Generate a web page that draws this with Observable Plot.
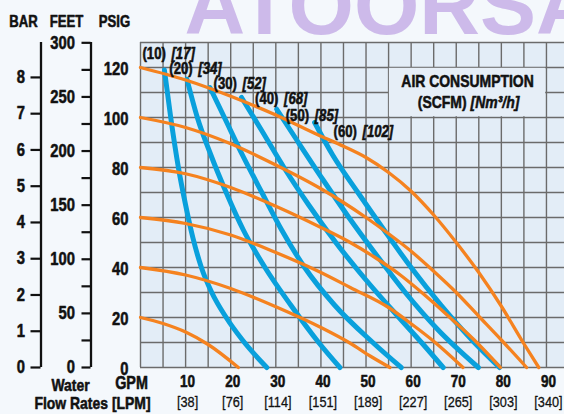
<!DOCTYPE html>
<html><head><meta charset="utf-8">
<script src="https://cdn.jsdelivr.net/npm/d3@7"></script>
<script src="https://cdn.jsdelivr.net/npm/@observablehq/plot@0.6"></script>
<style>
html,body{margin:0;padding:0;background:#f4f8fc;}
#chart svg{display:block;}
</style></head><body><div id="chart"></div>
<script>
// ---- tick values ----
const barTicks = [0, 1, 2, 3, 4, 5, 6, 7, 8];
const feetMajor = [0, 50, 100, 150, 200, 250, 300];
const feetMinor = [25, 75, 125, 175, 225, 275];
const psiTicks = [0, 20, 40, 60, 80, 100, 120];
const gpmTicks = [10, 20, 30, 40, 50, 60, 70, 80, 90];
const lpmTicks = [38, 76, 114, 151, 189, 227, 265, 303, 340];

// ---- discharge pressure curves (orange): [GPM, PSIG] ----
const pressure120 = [[0,120],[10,115],[20,108.5],[30,101],[40,92.5],[45,88.5],[50,84],[55,78],[60,70.5],[65,61],[70,50],[75,38],[80,24.5],[85,9.5],[88.3,0]];
const pressure100 = [[0,100],[10,96],[20,89.5],[30,81],[40,71.5],[45,66],[50,60],[55,53.5],[60,46.5],[65,38.5],[70,30],[75,20.5],[80,11],[85.6,0]];
const pressure80  = [[0,80],[10,77.5],[20,72],[30,64.5],[40,56],[46.5,50],[52,44],[57.6,37],[63,29],[68.6,20],[74,11],[79.8,0]];
const pressure60  = [[0,60],[10,57.6],[20,53],[30,46],[40,38],[46.5,32],[55,24],[60,17.5],[65,10.5],[71.5,0]];
const pressure40  = [[0,40],[10,37],[20,31.6],[30,24.3],[40,16],[46.5,9.7],[51,4.5],[55.3,0]];
const pressure20  = [[0,20],[5,17.6],[10,14.2],[15,9.2],[21.7,0]];

// ---- air consumption curves (blue): [GPM, PSIG] ----
const air10 = [[5.3,119],[6.7,100],[8.4,80],[10,65],[11.6,52],[13.5,40],[15.8,30],[19,20],[22.6,11],[28,0]];
const air20 = [[10.3,115.3],[12.6,100],[15.6,85],[19,70],[22.8,55],[27.6,40],[33.3,25],[39.5,10],[44.2,0]];
const air30 = [[15.4,112],[18.6,100],[22.6,85],[26.9,70],[31.3,55],[36.4,40],[43,25],[51.5,10],[57.8,0]];
const air40 = [[22.4,108],[26.8,95],[31.8,80],[37.3,65],[43.3,50],[50,35],[57.3,20],[62.3,10],[67.1,0]];
const air50 = [[30.2,103.3],[35,90],[40.5,75],[46.2,60],[52.3,45],[58.7,30],[66,15],[74.9,0]];
const air60 = [[38.6,98],[42.6,85],[48.2,70],[54,55],[60,40],[66.6,25],[74,10],[79.6,0]];

// ---- curve labels ----
const scfm  = [10, 20, 30, 40, 50, 60];
const nm3h  = [17, 34, 52, 68, 85, 102];
const labelGpm = [0.44, 6.4, 16.2, 25.4, 32.2, 42.8];
const labelPsi = [125.6, 119.6, 113.6, 107.5, 100.8, 94.4];

// legend cell (GPM x PSIG range it occupies)
const legendGpm = [55, 90];
const legendPsi = [100, 120];

const PSI_PER_BAR = 14.5038;
const FT_PER_PSI = 2.31;

const pressureCurves = [pressure120, pressure100, pressure80, pressure60, pressure40, pressure20]
  .flatMap((c, k) => c.map(([g, p]) => ({g, p, k})));
const airCurves = [air10, air20, air30, air40, air50, air60]
  .flatMap((c, k) => c.map(([g, p]) => ({g, p, k})));
const labels = scfm.map((s, i) => ({s, n: nm3h[i], g: labelGpm[i], p: labelPsi[i]}));

const FONT = '"Liberation Sans",Arial,Helvetica,sans-serif';
const ORANGE = "#f5821f";
const BLUE = "#09a0dc";
const GRID = "#6b6b6b";
const INK = "#111";
const lx = (legendGpm[0] + legendGpm[1]) / 2, ly = (legendPsi[0] + legendPsi[1]) / 2;

const chart = Plot.plot({
  width: 564, height: 414,
  marginLeft: 140, marginRight: 0, marginTop: 42, marginBottom: 47,
  x: {domain: [0, 94], axis: null},
  y: {domain: [0, 130], axis: null},
  style: {fontFamily: FONT, background: "transparent", overflow: "visible", color: INK},
  marks: [
    // watermark
    Plot.text(["ATOORSA"], {frameAnchor: "top-left", dx: 250, dy: -9, lineAnchor: "bottom", textAnchor: "middle",
      fontSize: 84, fontWeight: "bold", fill: "#c5afe6", fillOpacity: 0.85}),
    Plot.frame({fill: "#e3edf7"}),
    Plot.gridX({ticks: d3.range(0, 91, 5), stroke: GRID, strokeOpacity: 1, strokeWidth: 1.4}),
    Plot.gridY({ticks: d3.range(0, 131, 10), stroke: GRID, strokeOpacity: 1, strokeWidth: 1.4}),
    Plot.rect([0], {x1: legendGpm[0], x2: legendGpm[1], y1: legendPsi[0], y2: legendPsi[1], fill: "#e6eef7", inset: 0.8}),
    // curves
    Plot.line(airCurves, {x: "g", y: "p", z: "k", stroke: BLUE, strokeWidth: 5, curve: "monotone-x", strokeLinecap: "round"}),
    Plot.line(pressureCurves, {x: "g", y: "p", z: "k", stroke: ORANGE, strokeWidth: 3.3, curve: "monotone-x"}),
    // curve labels
    Plot.text(labels, {x: "g", y: "p", text: d => `(${d.s})`, textAnchor: "start", fontSize: 16, fontWeight: "bold", fill: INK}),
    Plot.text(labels, {x: "g", y: "p", text: d => `[${d.n}]`, textAnchor: "start", dx: 29, fontSize: 16, fontWeight: "bold", fontStyle: "italic", fill: INK}),
    // legend
    Plot.text(["AIR CONSUMPTION"], {x: lx, y: ly, dy: -11, fontSize: 17, fontWeight: "bold", fill: INK}),
    Plot.text(["(SCFM)"], {x: lx, y: ly, dy: 10, dx: -1, textAnchor: "end", fontSize: 17, fontWeight: "bold", fill: INK}),
    Plot.text(["[Nm³/h]"], {x: lx, y: ly, dy: 10, dx: 3, textAnchor: "start", fontSize: 17, fontWeight: "bold", fontStyle: "italic", fill: INK}),
    // PSIG axis
    Plot.axisY(psiTicks, {anchor: "left", tickSize: 0, tickPadding: 12, fontSize: 18, fontWeight: "bold", label: null, dy: 1.5}),
    // FEET axis
    Plot.ruleX([0], {dx: -49.5, stroke: INK, strokeWidth: 2.3}),
    Plot.axisY(feetMajor.map(f => f / FT_PER_PSI), {anchor: "left", tickSize: 9, tickPadding: 7, dx: -49.5, strokeWidth: 2.2, stroke: INK,
      tickFormat: d => Math.round(d * FT_PER_PSI), fontSize: 18, fontWeight: "bold", label: null}),
    Plot.axisY(feetMinor.map(f => f / FT_PER_PSI), {anchor: "left", tickSize: 9, tickPadding: 7, dx: -49.5, strokeWidth: 2.2, stroke: INK,
      tickFormat: () => "", label: null}),
    // BAR axis
    Plot.ruleX([0], {dx: -99.5, stroke: INK, strokeWidth: 2.3}),
    Plot.axisY(barTicks.map(b => b * PSI_PER_BAR), {anchor: "left", tickSize: 10, tickPadding: 6, dx: -99.5, strokeWidth: 2.2, stroke: INK,
      tickFormat: d => Math.round(d / PSI_PER_BAR), fontSize: 18, fontWeight: "bold", label: null}),
    // headers
    Plot.text(["BAR"], {frameAnchor: "top-left", dx: -117, dy: -21, lineAnchor: "middle", textAnchor: "middle", fontSize: 16, fontWeight: "bold", fill: INK}),
    Plot.text(["FEET"], {frameAnchor: "top-left", dx: -74, dy: -21, lineAnchor: "middle", textAnchor: "middle", fontSize: 16, fontWeight: "bold", fill: INK}),
    Plot.text(["PSIG"], {frameAnchor: "top-left", dx: -26, dy: -21, lineAnchor: "middle", textAnchor: "middle", fontSize: 16, fontWeight: "bold", fill: INK}),
    // bottom axis: GPM and LPM
    Plot.axisX(gpmTicks, {anchor: "bottom", tickSize: 0, tickPadding: 8, dx: 2, fontSize: 16.5, fontWeight: "bold", label: null}),
    Plot.text(gpmTicks, {x: d => d, text: (d, i) => `[${lpmTicks[i]}]`, frameAnchor: "bottom", lineAnchor: "middle", dy: 34.5, dx: 2, fontSize: 15.5, fill: INK}),
    Plot.text(["Water"], {frameAnchor: "bottom-left", dx: -70, dy: 18, lineAnchor: "middle", textAnchor: "middle", fontSize: 17, fontWeight: "bold", fill: INK}),
    Plot.text(["GPM"], {frameAnchor: "bottom-left", dx: -9, dy: 16, lineAnchor: "middle", textAnchor: "middle", fontSize: 17.5, fontWeight: "bold", fill: INK}),
    Plot.text(["Flow Rates [LPM]"], {frameAnchor: "bottom-left", dx: -48, dy: 36.5, lineAnchor: "middle", textAnchor: "middle", fontSize: 17, fontWeight: "bold", fill: INK})
  ]
});
document.getElementById("chart").appendChild(chart);

// condensed, heavy lettering (like Helvetica Condensed Bold): compress glyphs horizontally, anchors unchanged
chart.querySelectorAll("text").forEach(t => {
  if (t.textContent === "ATOORSA" || !t.textContent) return;
  const len = t.getComputedTextLength();
  if (len > 0) {
    t.setAttribute("textLength", (len * 0.82).toFixed(2));
    t.setAttribute("lengthAdjust", "spacingAndGlyphs");
  }
  const bold = +getComputedStyle(t).fontWeight >= 600;
  t.setAttribute("stroke", INK);
  t.setAttribute("stroke-width", bold ? 0.55 : 0.3);
  t.setAttribute("stroke-linejoin", "round");
});
</script>
</body></html>
